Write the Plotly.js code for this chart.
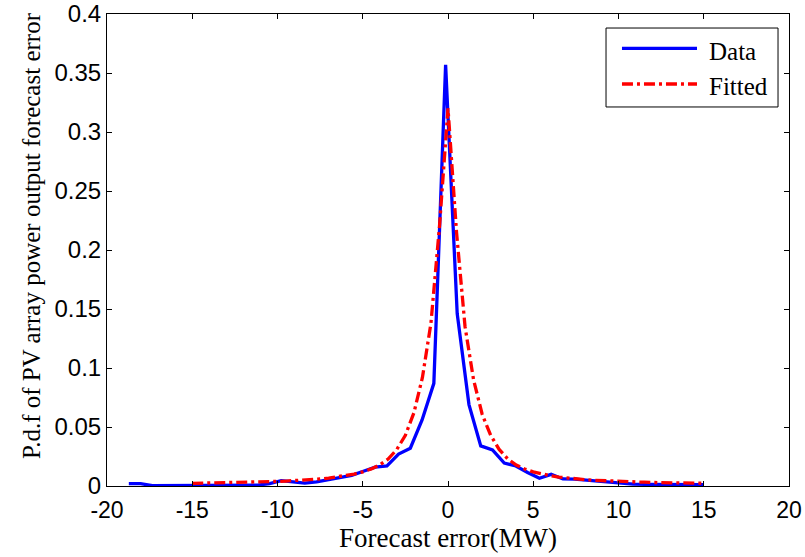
<!DOCTYPE html>
<html>
<head>
<meta charset="utf-8">
<script src="https://cdn.plot.ly/plotly-3.0.1.min.js"></script>
<style>html,body{margin:0;padding:0;background:#fff;}#chart{width:805px;height:557px;}</style>
</head>
<body>
<div id="chart"></div>
<script>
// Empirical pdf (blue)
const dataX = [-18.72, -18.03, -17.34, -16.66, -15.97, -15.28, -14.59, -13.90, -13.22, -12.53,
  -11.84, -11.15, -10.46, -9.78, -9.09, -8.40, -7.71, -7.02, -6.34, -5.65,
  -4.96, -4.27, -3.58, -2.90, -2.21, -1.52, -0.83, -0.14, 0.54, 1.23,
  1.92, 2.61, 3.30, 3.98, 4.67, 5.36, 6.05, 6.74, 7.42, 8.11,
  8.80, 9.49, 10.18, 10.86, 11.55, 12.24, 12.93, 13.62, 14.30, 14.99];
const dataY = [0.0020, 0.0020, 0.0003, 0.0003, 0.0003, 0.0003, 0.0005, 0.0005, 0.0005, 0.0005,
  0.0008, 0.0008, 0.0020, 0.0045, 0.0035, 0.0025, 0.0035, 0.0055, 0.0068, 0.0090,
  0.0125, 0.0160, 0.0170, 0.0270, 0.0320, 0.0560, 0.0870, 0.3570, 0.1460, 0.0690,
  0.0340, 0.0305, 0.0195, 0.0170, 0.0115, 0.0065, 0.0099, 0.0060, 0.0058, 0.0050,
  0.0037, 0.0030, 0.0022, 0.0016, 0.0014, 0.0013, 0.0012, 0.0012, 0.0012, 0.0012];

// Fitted pdf (red)
const fitX = [-15, -14.5, -14, -13.5, -13, -12.5, -12, -11.5, -11, -10.5,
  -10, -9.5, -9, -8.5, -8, -7.5, -7, -6.5, -6, -5.5,
  -5, -4.5, -4, -3.5, -3, -2.5, -2, -1.5, -1, -0.5,
  0, 0.5, 1, 1.5, 2, 2.5, 3, 3.5, 4, 4.5,
  5, 5.5, 6, 6.5, 7, 7.5, 8, 8.5, 9, 9.5,
  10, 10.5, 11, 11.5, 12, 12.5, 13, 13.5, 14, 14.5, 15];
const fitY = [0.0023, 0.0024, 0.0025, 0.0026, 0.0027, 0.0029, 0.0030, 0.0032, 0.0034, 0.0036,
  0.0039, 0.0042, 0.0045, 0.0049, 0.0054, 0.0060, 0.0067, 0.0076, 0.0087, 0.0101,
  0.0120, 0.0145, 0.0180, 0.0230, 0.0310, 0.0430, 0.0620, 0.0920, 0.1380, 0.2200,
  0.3200, 0.2150, 0.1350, 0.0900, 0.0610, 0.0430, 0.0310, 0.0230, 0.0178, 0.0144,
  0.0120, 0.0101, 0.0087, 0.0076, 0.0067, 0.0060, 0.0054, 0.0049, 0.0045, 0.0042,
  0.0039, 0.0036, 0.0034, 0.0032, 0.0030, 0.0029, 0.0027, 0.0026, 0.0025, 0.0024, 0.0023];

const xTicks = [-20, -15, -10, -5, 0, 5, 10, 15, 20];
const yTicks = [0, 0.05, 0.1, 0.15, 0.2, 0.25, 0.3, 0.35, 0.4];
const xTickText = ['-20', '-15', '-10', '-5', '0', '5', '10', '15', '20'];
const yTickText = ['0', '0.05', '0.1', '0.15', '0.2', '0.25', '0.3', '0.35', '0.4'];
const seriesNames = ['Data', 'Fitted'];
const xTitle = 'Forecast error(MW)';
const yTitle = 'P.d.f of PV array power output forecast error';

const serif = '"Liberation Serif", "Times New Roman", serif';
const sans = '"Liberation Sans", Arial, sans-serif';
const BLUE = '#0000FF', RED = '#FF0000', DASHDOT = '11px,4px,3px,4px';

const traces = [
  {x: dataX, y: dataY, type: 'scatter', mode: 'lines', name: seriesNames[0],
   line: {color: BLUE, width: 3.3}},
  {x: fitX, y: fitY, type: 'scatter', mode: 'lines', name: seriesNames[1],
   line: {color: RED, width: 3.3, dash: DASHDOT}}
];

const axisCommon = {
  showline: true, linecolor: '#000', linewidth: 1, mirror: 'allticks',
  ticks: 'inside', ticklen: 5, tickcolor: '#000', tickwidth: 1,
  showgrid: false, zeroline: false, ticklabeloverflow: 'allow'
};

// Legend drawn as a boxed key in paper coordinates (MATLAB-style long line samples)
const legBox = {x0: 0.7317, x1: 0.9839, y0: 0.8030, y1: 0.9703};
const legLine = {x0: 0.7551, x1: 0.8651};
const legRowY = [0.9273, 0.8517];
const legTextY = [0.9195, 0.8464];
const legTextX = 0.8798;

const shapes = [
  {type: 'rect', xref: 'paper', yref: 'paper', x0: legBox.x0, x1: legBox.x1, y0: legBox.y0, y1: legBox.y1,
   line: {color: '#000', width: 1}, fillcolor: '#fff', layer: 'above'},
  {type: 'line', xref: 'paper', yref: 'paper', x0: legLine.x0, x1: legLine.x1, y0: legRowY[0], y1: legRowY[0],
   line: {color: BLUE, width: 3.3}, layer: 'above'},
  {type: 'line', xref: 'paper', yref: 'paper', x0: legLine.x0, x1: legLine.x1, y0: legRowY[1], y1: legRowY[1],
   line: {color: RED, width: 3.3, dash: DASHDOT}, layer: 'above'}
];
const annotations = seriesNames.map((n, i) => ({
  xref: 'paper', yref: 'paper', x: legTextX, y: legTextY[i], xanchor: 'left', yanchor: 'middle',
  text: n, showarrow: false, font: {family: serif, size: 25, color: '#000'}
}));
// y-axis title (placed like the reference, slightly above the axis centre)
annotations.push({
  xref: 'paper', yref: 'paper', x: -0.110, y: 0.5318, xanchor: 'center', yanchor: 'middle',
  text: yTitle, textangle: -90, showarrow: false, font: {family: serif, size: 25, color: '#000'}
});

const layout = {
  width: 805, height: 557,
  margin: {l: 107, r: 16, t: 14, b: 71},
  paper_bgcolor: '#fff', plot_bgcolor: '#fff',
  showlegend: false,
  xaxis: Object.assign({}, axisCommon, {
    range: [-20, 20], tickvals: xTicks, ticktext: xTickText, ticklabelstandoff: 3,
    tickfont: {family: sans, size: 23, color: '#000'},
    title: {text: xTitle, font: {family: serif, size: 27, color: '#000'}, standoff: 4}
  }),
  yaxis: Object.assign({}, axisCommon, {
    range: [0, 0.4], tickvals: yTicks, ticktext: yTickText,
    tickfont: {family: sans, size: 24, color: '#000'}
  }),
  shapes: shapes,
  annotations: annotations
};

Plotly.newPlot('chart', traces, layout, {displayModeBar: false, staticPlot: true});
</script>
</body>
</html>
